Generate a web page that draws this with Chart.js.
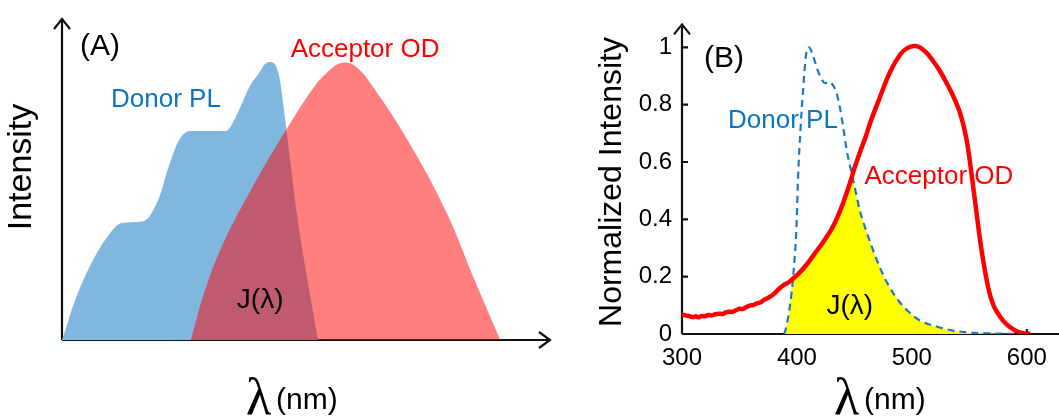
<!DOCTYPE html>
<html>
<head>
<meta charset="utf-8">
<script src="https://cdn.jsdelivr.net/npm/chart.js@4"></script>
<style>
  html, body { margin: 0; padding: 0; background: #fff; }
  #wrap { position: relative; width: 1059px; height: 419px; overflow: hidden; }
  #panelA { position: absolute; left: 0; top: 0; }
  #panelB { position: absolute; left: 580px; top: 0; }
</style>
</head>
<body>
<div id="wrap">
  <canvas id="panelA" width="560" height="419"></canvas>
  <canvas id="panelB" width="479" height="419"></canvas>
</div>
<script>
// ---- panel A: schematic spectra (arbitrary units 0..100) ----
const donorA_x = [0, 0.8, 2.25, 5.7, 9.4, 12.1, 16.8, 19.7, 21.9, 24, 26.2, 33.6, 35.7, 38.5, 40.5, 41.6, 42.8, 44.5, 45.9, 48.2, 51, 52.5];
const donorA_y = [0, 3.6, 10.6, 23, 32.4, 36.4, 37.1, 43.6, 54.2, 62.3, 65.1, 65.1, 69.8, 79.1, 83.5, 86, 86.6, 82.2, 66.7, 38.6, 12.5, 0];
const accA_x = [26.4, 29.1, 32.8, 38.7, 45.9, 51.8, 54.9, 57.2, 60, 64.1, 71.5, 78.7, 84.6, 89.8];
const accA_y = [0, 14.6, 29.3, 46.7, 65.4, 79.1, 84.1, 86.3, 85.4, 78, 60.5, 40, 18.5, 0];

// ---- panel B: measured spectra ----
const accNm = [300, 302, 304, 306, 308, 310, 312, 314, 316, 318, 320, 323, 326, 329, 332, 335, 338, 341, 344, 347, 350, 353, 356, 359, 362, 365, 368, 371, 374, 377, 380, 383, 386, 389, 392, 395, 400, 408, 415, 423, 430, 435, 440, 446, 450, 455, 460, 464, 472, 481, 490, 496, 502, 507, 513, 518, 524, 530, 535, 542, 547.5, 552, 556, 560.5, 566.5, 571, 576.5, 582, 588, 593, 598, 603];
const accOD = [0.067, 0.066, 0.064, 0.063, 0.060, 0.059, 0.062, 0.058, 0.061, 0.063, 0.062, 0.066, 0.065, 0.069, 0.071, 0.070, 0.075, 0.078, 0.077, 0.083, 0.088, 0.087, 0.094, 0.099, 0.101, 0.107, 0.110, 0.118, 0.124, 0.131, 0.140, 0.152, 0.163, 0.172, 0.178, 0.188, 0.205, 0.24, 0.278, 0.322, 0.365, 0.405, 0.455, 0.525, 0.578, 0.636, 0.69, 0.74, 0.824, 0.914, 0.976, 0.997, 1.005, 1.0, 0.98, 0.955, 0.92, 0.877, 0.838, 0.77, 0.68, 0.556, 0.43, 0.295, 0.16, 0.1, 0.062, 0.035, 0.017, 0.007, 0.002, 0];
const donNm = [389, 391, 394, 396.8, 399.7, 401, 403.2, 405.5, 407.8, 410.7, 414, 418.5, 422, 424.3, 428.7, 431, 434, 437.4, 440.3, 443.2, 446.7, 450.4, 454.8, 462, 469.3, 478, 489.6, 498, 507, 521.5, 533, 545, 561, 580, 593];
const donPL = [0, 0.03, 0.10, 0.205, 0.385, 0.55, 0.72, 0.86, 0.97, 1.0, 0.97, 0.915, 0.885, 0.875, 0.88, 0.87, 0.847, 0.79, 0.72, 0.644, 0.577, 0.51, 0.43, 0.34, 0.26, 0.182, 0.11, 0.075, 0.047, 0.026, 0.014, 0.007, 0.003, 0.001, 0];
const overlapNm = [389, 391, 394, 396.5, 400, 408, 415, 423, 430, 435, 440, 446, 447.8, 450.4, 454.8, 462, 469.3, 478, 489.6, 498, 507, 521.5, 533, 545, 561, 580, 598];
const overlapVal = [0, 0.03, 0.10, 0.195, 0.205, 0.24, 0.278, 0.322, 0.365, 0.405, 0.455, 0.525, 0.553, 0.51, 0.43, 0.34, 0.26, 0.182, 0.11, 0.075, 0.047, 0.026, 0.014, 0.007, 0.003, 0.001, 0];
const xTicks = [300, 400, 500, 600];
const yTicks = [0, 0.2, 0.4, 0.6, 0.8, 1];

const pts = (xs, ys) => xs.map((x, i) => ({ x: x, y: ys[i] }));

const SANS = '"Liberation Sans", Arial, sans-serif';
const SERIF = '"Liberation Serif", "Times New Roman", serif';
const BLUE_TXT = '#0f74c0';

// annotations, placed in data units of each panel
const notesA = [
  { text: '(A)', x: 7.8, y: 91.3, color: '#000', size: 30 },
  { text: 'Donor PL', x: 21.3, y: 74.8, color: BLUE_TXT, size: 26 },
  { text: 'Acceptor OD', x: 62.1, y: 90.3, color: '#ff0000', size: 26 },
  { text: 'J(λ)', x: 40.6, y: 12.5, color: '#000', size: 28 }
];
const notesB = [
  { text: '(B)', x: 336.5, y: 0.959, color: '#000', size: 30 },
  { text: 'Donor PL', x: 387.8, y: 0.743, color: BLUE_TXT, size: 26 },
  { text: 'Acceptor OD', x: 523.5, y: 0.547, color: '#ff0000', size: 26 },
  { text: 'J(λ)', x: 446, y: 0.098, color: '#000', size: 28 }
];

function axesPlugin(opt) {
  return {
    id: 'axesArrows',
    beforeDatasetsDraw(chart) {
      const ctx = chart.ctx, a = chart.chartArea;
      ctx.save();
      ctx.strokeStyle = '#111';
      ctx.lineWidth = 2.2;
      ctx.beginPath();
      ctx.moveTo(a.left, a.bottom); ctx.lineTo(a.left, a.top);
      ctx.moveTo(a.left, a.bottom); ctx.lineTo(a.right, a.bottom);
      ctx.moveTo(a.left - 8, a.top + 10); ctx.lineTo(a.left, a.top); ctx.lineTo(a.left + 8, a.top + 10);
      if (opt.xArrow) {
        ctx.moveTo(a.right - 11, a.bottom - 8); ctx.lineTo(a.right, a.bottom); ctx.lineTo(a.right - 11, a.bottom + 8);
      }
      if (opt.ticks) {
        const xs = chart.scales.x, ys = chart.scales.y;
        xs.ticks.forEach(t => { const p = xs.getPixelForValue(t.value); ctx.moveTo(p, a.bottom); ctx.lineTo(p, a.bottom - 5); });
        ys.ticks.forEach(t => { const p = ys.getPixelForValue(t.value); ctx.moveTo(a.left, p); ctx.lineTo(a.left + 6, p); });
      }
      ctx.stroke();
      ctx.restore();
    },
    afterDraw(chart) {
      const ctx = chart.ctx;
      const xs = chart.scales.x, ys = chart.scales.y;
      ctx.save();
      ctx.textAlign = 'center';
      ctx.textBaseline = 'middle';
      opt.notes.forEach(n => {
        ctx.fillStyle = n.color;
        ctx.font = n.size + 'px ' + SANS;
        ctx.fillText(n.text, xs.getPixelForValue(n.x), ys.getPixelForValue(n.y));
      });
      // y axis title
      ctx.save();
      ctx.translate(opt.yTitle.x, opt.yTitle.y);
      ctx.rotate(-Math.PI / 2);
      ctx.fillStyle = '#000';
      ctx.font = opt.yTitle.size + 'px ' + SANS;
      ctx.fillText(opt.yTitle.text, 0, 0);
      ctx.restore();
      // x axis title: lambda (nm)
      ctx.textAlign = 'left';
      ctx.textBaseline = 'alphabetic';
      ctx.fillStyle = '#000';
      ctx.font = '52px ' + SERIF;
      ctx.fillText('λ', opt.xTitle.x, 414);
      ctx.font = '30px ' + SANS;
      ctx.fillText('(nm)', opt.xTitle.x + 30, 409);
      ctx.restore();
    }
  };
}

new Chart(document.getElementById('panelA'), {
  type: 'line',
  data: {
    datasets: [
      {
        label: 'Acceptor OD',
        data: pts(accA_x, accA_y),
        fill: 'origin',
        backgroundColor: 'rgba(255, 0, 0, 0.5)',
        borderColor: 'transparent',
        borderWidth: 0,
        tension: 0.4
      },
      {
        label: 'Donor PL',
        data: pts(donorA_x, donorA_y),
        fill: 'origin',
        backgroundColor: 'rgb(128, 183, 223)',
        borderColor: 'transparent',
        borderWidth: 0,
        cubicInterpolationMode: 'monotone'
      }
    ]
  },
  options: {
    responsive: false,
    animation: false,
    layout: { padding: { left: 62, right: 10, top: 19, bottom: 79 } },
    elements: { point: { radius: 0 } },
    scales: {
      x: { type: 'linear', min: 0, max: 100, display: false },
      y: { type: 'linear', min: 0, max: 100, display: false }
    },
    plugins: { legend: { display: false }, tooltip: { enabled: false } }
  },
  plugins: [axesPlugin({
    xArrow: true, ticks: false, notes: notesA,
    yTitle: { text: 'Intensity', x: 22, y: 167, size: 34 },
    xTitle: { x: 246 }
  })]
});

new Chart(document.getElementById('panelB'), {
  type: 'line',
  data: {
    datasets: [
      {
        label: 'Acceptor OD',
        data: pts(accNm, accOD),
        borderColor: '#ff0000',
        borderWidth: 4.5,
        fill: false,
        tension: 0.35
      },
      {
        label: 'Donor PL',
        data: pts(donNm, donPL),
        borderColor: '#1b78c2',
        borderWidth: 2.2,
        borderDash: [7, 5],
        fill: false,
        cubicInterpolationMode: 'monotone'
      },
      {
        label: 'J',
        data: pts(overlapNm, overlapVal),
        fill: 'origin',
        backgroundColor: '#ffff00',
        borderColor: 'transparent',
        borderWidth: 0,
        cubicInterpolationMode: 'monotone'
      }
    ]
  },
  options: {
    responsive: false,
    animation: false,
    layout: { padding: { left: 0, right: 0, top: 14, bottom: 0 } },
    elements: { point: { radius: 0 } },
    scales: {
      x: {
        type: 'linear', min: 300, max: 628,
        afterBuildTicks: s => { s.ticks = xTicks.map(v => ({ value: v })); },
        afterFit: s => { s.height = 85; },
        grid: { display: false, drawTicks: false },
        border: { display: false },
        ticks: { color: '#000', padding: 10, font: { family: SANS, size: 24 }, maxRotation: 0 }
      },
      y: {
        type: 'linear', min: 0, max: 1.08,
        afterBuildTicks: s => { s.ticks = yTicks.map(v => ({ value: v })); },
        afterFit: s => { s.width = 102; },
        grid: { display: false, drawTicks: false },
        border: { display: false },
        ticks: { color: '#000', padding: 10, font: { family: SANS, size: 24 }, callback: v => String(+v.toFixed(1)) }
      }
    },
    plugins: { legend: { display: false }, tooltip: { enabled: false } }
  },
  plugins: [axesPlugin({
    xArrow: false, ticks: true, notes: notesB,
    yTitle: { text: 'Normalized Intensity', x: 32, y: 182, size: 32 },
    xTitle: { x: 254 }
  })]
});
</script>
</body>
</html>
